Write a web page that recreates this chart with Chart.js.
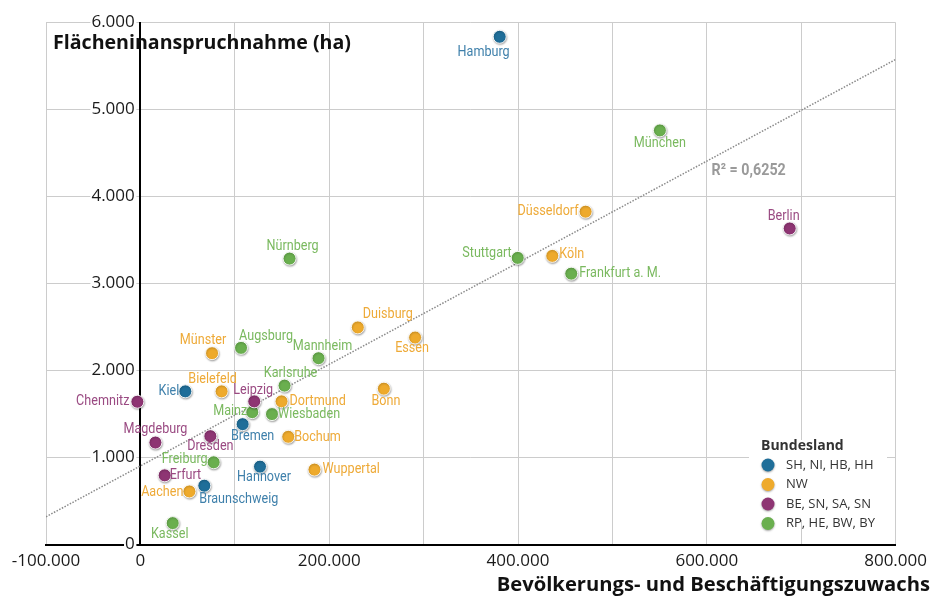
<!DOCTYPE html>
<html>
<head>
<meta charset="utf-8">
<script src="https://cdn.jsdelivr.net/npm/chart.js@4.4.0/dist/chart.umd.min.js"></script>
<style>
  html, body { margin: 0; padding: 0; background: #fff; }
  #wrap { width: 933px; height: 597px; }
</style>
</head>
<body>
<div id="wrap"><canvas id="chart" width="933" height="597"></canvas></div>
<script>
// Städte: Bevölkerungs- und Beschäftigungszuwachs (x) und Flächeninanspruchnahme in ha (y)
const cities = ['Hamburg', 'Kiel', 'Bremen', 'Hannover', 'Braunschweig',
  'Münster', 'Bielefeld', 'Dortmund', 'Bochum', 'Wuppertal', 'Aachen', 'Bonn', 'Duisburg', 'Essen', 'Düsseldorf', 'Köln',
  'Chemnitz', 'Leipzig', 'Magdeburg', 'Dresden', 'Erfurt', 'Berlin',
  'Augsburg', 'Mannheim', 'Karlsruhe', 'Mainz', 'Wiesbaden', 'Freiburg', 'Kassel', 'Nürnberg', 'Stuttgart', 'Frankfurt a. M.', 'München'];
const growth = [380600, 47600, 108300, 126700, 67700,
  75900, 86000, 149500, 156600, 184400, 51900, 257900, 230300, 291000, 471600, 436300,
  -3200, 120600, 15900, 74100, 25700, 687800,
  106600, 188700, 152700, 118500, 139400, 77600, 34200, 158000, 399700, 456400, 550300];
const area = [5836, 1761, 1384, 896, 677,
  2200, 1761, 1646, 1239, 862, 611, 1792, 2496, 2380, 3826, 3318,
  1642, 1646, 1173, 1246, 796, 3633,
  2261, 2142, 1827, 1522, 1500, 946, 247, 3287, 3295, 3114, 4760];
const group = [0, 0, 0, 0, 0,
  1, 1, 1, 1, 1, 1, 1, 1, 1, 1, 1,
  2, 2, 2, 2, 2, 2,
  3, 3, 3, 3, 3, 3, 3, 3, 3, 3, 3];
const groups = ['SH, NI, HB, HH', 'NW', 'BE, SN, SA, SN', 'RP, HE, BW, BY'];
const xTickLabels = [-100000, 0, 200000, 400000, 600000, 800000];
// lineare Trendlinie (Endpunkte)
const trendX = [-100000, 800000];
const trendY = [320, 5575];
const rSquared = 'R² = 0,6252';

const pointColors = ['#1f6e99', '#eeaa2c', '#8e3573', '#6aaf4f'];
const textColors = ['#3f80ab', '#eeaa38', '#9a4a82', '#7ab95f'];

// Lage der Beschriftung zum Punkt: [Ausrichtung, dx, dy]
const labelPos = {
  'Hamburg': ['right', 10, 15], 'Kiel': ['right', -6, 0], 'Bremen': ['center', 10, 12],
  'Hannover': ['center', 4, 11], 'Braunschweig': ['left', -5, 14],
  'Münster': ['center', -9, -13], 'Bielefeld': ['center', -9, -12], 'Dortmund': ['left', 8, 0],
  'Bochum': ['left', 6, 0], 'Wuppertal': ['left', 8, 0], 'Aachen': ['right', -6, 1],
  'Bonn': ['center', 2, 13], 'Duisburg': ['left', 5, -13], 'Essen': ['center', -3, 11],
  'Düsseldorf': ['right', -7, 0], 'Köln': ['left', 7, -2],
  'Chemnitz': ['right', -8, 0], 'Leipzig': ['center', -1, -11], 'Magdeburg': ['center', 0, -13],
  'Dresden': ['center', 0, 10], 'Erfurt': ['left', 5, 0], 'Berlin': ['center', -6, -12],
  'Augsburg': ['left', -2, -12], 'Mannheim': ['center', 4, -12], 'Karlsruhe': ['center', 6, -12],
  'Mainz': ['right', -5, -1], 'Wiesbaden': ['left', 6, 0], 'Freiburg': ['right', -6, -3],
  'Kassel': ['center', -3, 11], 'Nürnberg': ['center', 3, -12], 'Stuttgart': ['right', -6, -5],
  'Frankfurt a. M.': ['left', 8, 0], 'München': ['center', 0, 13]
};

const LABEL_FONT = '15px Roboto, sans-serif';
const NARROW = 0.84;

function fmt(v) {
  const s = String(Math.abs(v)).replace(/\B(?=(\d{3})+(?!\d))/g, '.');
  return (v < 0 ? '-' : '') + s;
}

// schmale Schrift nachbilden
function narrowText(ctx, text, x, y) {
  ctx.save();
  ctx.translate(x, y);
  ctx.scale(NARROW, 1);
  ctx.fillText(text, 0, 0);
  ctx.restore();
}

const datasets = groups.map((g, gi) => ({
  type: 'scatter',
  label: g,
  data: cities.map((c, i) => ({ x: growth[i], y: area[i], name: c, g: group[i] }))
    .filter(d => d.g === gi),
  backgroundColor: pointColors[gi],
  borderColor: 'rgba(255,255,255,0.9)',
  borderWidth: 1,
  pointRadius: 6.5,
  pointHoverRadius: 6.5,
  order: 1
}));

datasets.push({
  type: 'line',
  label: 'Trend',
  data: trendX.map((x, i) => ({ x: x, y: trendY[i] })),
  borderColor: '#8a8a8a',
  borderWidth: 1.5,
  borderDash: [1.5, 1.5],
  pointRadius: 0,
  fill: false,
  order: 5
});

// Schatten unter den Punkten
const shadowPlugin = {
  id: 'shadow',
  beforeDatasetDraw(chart, args) {
    if (args.meta.type !== 'scatter') return;
    const ctx = chart.ctx;
    ctx.shadowColor = 'rgba(0,0,0,0.35)';
    ctx.shadowBlur = 2;
    ctx.shadowOffsetX = 0.5;
    ctx.shadowOffsetY = 1;
  },
  afterDatasetDraw(chart) {
    const ctx = chart.ctx;
    ctx.shadowColor = 'rgba(0,0,0,0)';
    ctx.shadowBlur = 0;
    ctx.shadowOffsetX = 0;
    ctx.shadowOffsetY = 0;
  }
};

// Städtenamen an den Punkten
const cityLabels = {
  id: 'cityLabels',
  afterDatasetsDraw(chart) {
    const ctx = chart.ctx;
    ctx.save();
    ctx.font = LABEL_FONT;
    ctx.textBaseline = 'middle';
    chart.data.datasets.forEach((ds, di) => {
      if (ds.type !== 'scatter') return;
      const meta = chart.getDatasetMeta(di);
      meta.data.forEach((pt, j) => {
        const d = ds.data[j];
        const p = labelPos[d.name] || ['left', 8, 0];
        ctx.textAlign = p[0];
        ctx.fillStyle = textColors[d.g];
        narrowText(ctx, d.name, pt.x + p[1], pt.y + p[2]);
      });
    });
    // Bestimmtheitsmaß
    const xs = chart.scales.x, ys = chart.scales.y;
    ctx.font = 'bold 17px Roboto, sans-serif';
    ctx.fillStyle = '#9a9a9a';
    ctx.textAlign = 'left';
    narrowText(ctx, rSquared, xs.getPixelForValue(605000), ys.getPixelForValue(4300));
    ctx.restore();
  }
};

// Achsentitel und Legende
const extras = {
  id: 'extras',
  afterDraw(chart) {
    const ctx = chart.ctx;
    ctx.save();
    ctx.fillStyle = '#111';
    ctx.textBaseline = 'middle';
    ctx.textAlign = 'left';
    ctx.font = 'bold 19.6px "Open Sans", sans-serif';
    ctx.fillText('Flächeninanspruchnahme (ha)', 53, 43);
    ctx.textAlign = 'right';
    ctx.font = 'bold 20.2px "Open Sans", sans-serif';
    ctx.fillText('Bevölkerungs- und Beschäftigungszuwachs', 930, 585);

    // Legende
    const lx = 749, ly = 440;
    ctx.fillStyle = '#fff';
    ctx.fillRect(lx, ly, 138, 80);
    ctx.fillStyle = '#333';
    ctx.textAlign = 'left';
    ctx.font = 'bold 14px "Open Sans", sans-serif';
    ctx.fillText('Bundesland', 761, 446);
    ctx.font = '13px "Open Sans", sans-serif';
    groups.forEach((g, i) => {
      const y = 465 + i * 19.5;
      ctx.shadowColor = 'rgba(0,0,0,0.35)';
      ctx.shadowBlur = 2;
      ctx.shadowOffsetY = 1;
      ctx.beginPath();
      ctx.arc(768, y, 6.5, 0, Math.PI * 2);
      ctx.fillStyle = pointColors[i];
      ctx.fill();
      ctx.shadowColor = 'rgba(0,0,0,0)';
      ctx.fillStyle = '#333';
      ctx.fillText(g, 786, y);
    });
    ctx.restore();
  }
};

new Chart(document.getElementById('chart'), {
  data: { datasets: datasets },
  options: {
    responsive: false,
    animation: false,
    devicePixelRatio: 1,
    layout: { padding: { left: 46, right: 36, top: 22.5, bottom: 20 } },
    plugins: {
      legend: { display: false },
      tooltip: { enabled: false }
    },
    scales: {
      x: {
        type: 'linear',
        position: 'bottom',
        min: -100000,
        max: 800000,
        ticks: {
          stepSize: 100000,
          autoSkip: false,
          maxRotation: 0,
          padding: 6,
          color: '#1a1a1a',
          font: { family: 'Open Sans', size: 17 },
          callback: v => xTickLabels.includes(v) ? fmt(v) : ''
        },
        grid: { color: '#cccccc', lineWidth: 1, drawTicks: false },
        border: { color: '#000', width: 2 }
      },
      y: {
        type: 'linear',
        position: { x: 0 },
        min: 0,
        max: 6000,
        ticks: {
          stepSize: 1000,
          color: '#1a1a1a',
          font: { family: 'Open Sans', size: 17 },
          showLabelBackdrop: true,
          backdropColor: '#ffffff',
          backdropPadding: { left: 1, right: -4, top: -2, bottom: -2 },
          callback: v => fmt(v) + '\u2009\u2009'
        },
        grid: { color: '#cccccc', lineWidth: 1, drawTicks: false },
        border: { color: '#000', width: 2 }
      }
    }
  },
  plugins: [shadowPlugin, cityLabels, extras]
});
</script>
</body>
</html>
